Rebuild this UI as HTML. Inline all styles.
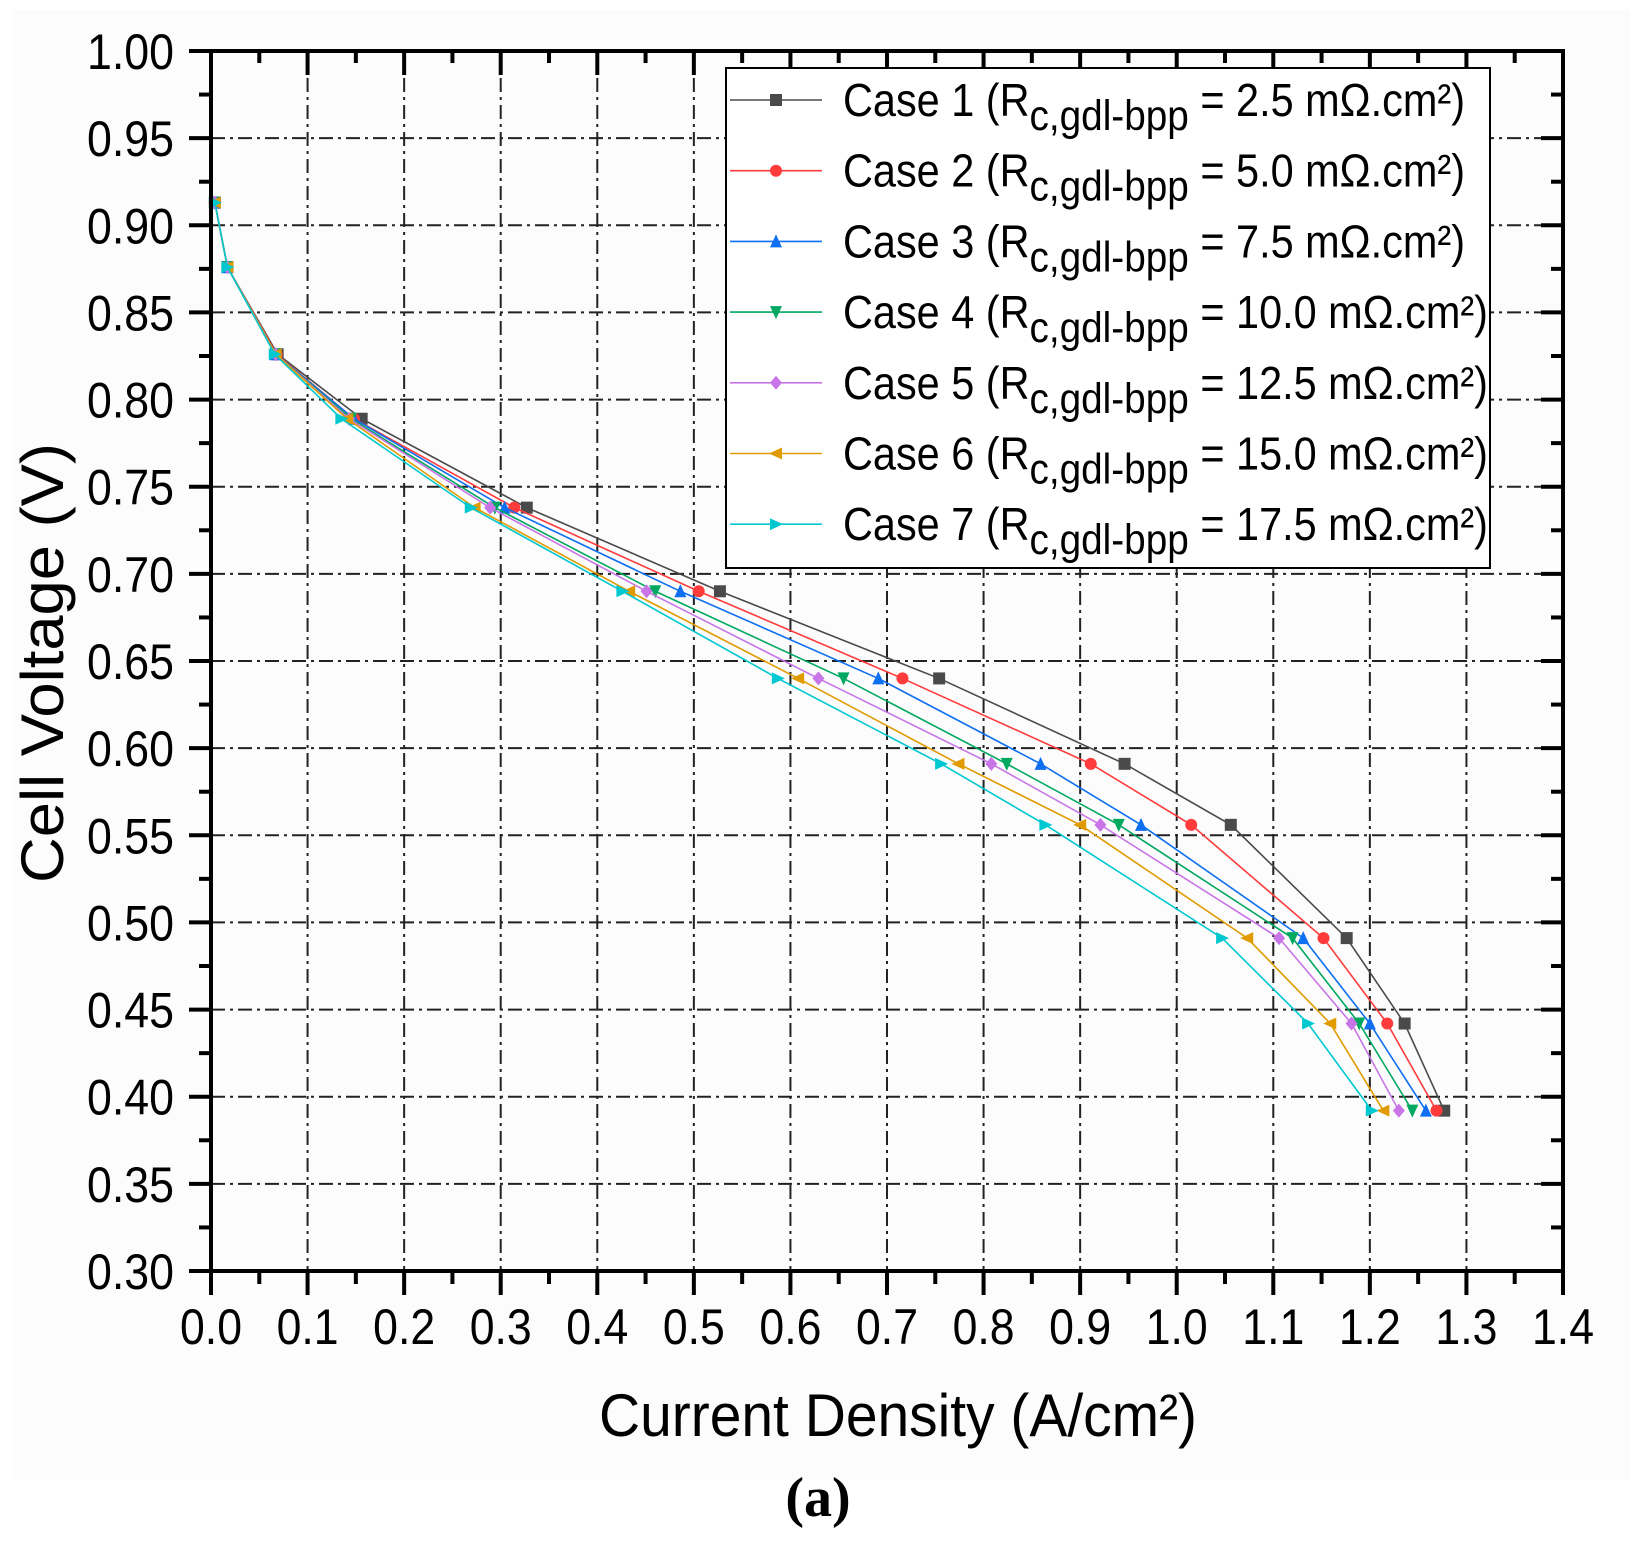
<!DOCTYPE html>
<html><head><meta charset="utf-8"><style>
html,body{margin:0;padding:0;background:#fff}
svg{display:block}
text{font-family:"Liberation Sans",Arial,sans-serif}
</style></head><body>
<svg id="chart" width="1637" height="1560" viewBox="0 0 1637 1560" xmlns="http://www.w3.org/2000/svg">
<rect width="1637" height="1560" fill="#fff"/>
<rect x="12" y="10" width="1618" height="1470" fill="#fcfcfc"/>
<g id="grid"></g>
<g id="series"></g>
<g id="axes"></g>
<g id="legend"></g>
<text x="898" y="1456" font-size="60" text-anchor="middle" textLength="598" lengthAdjust="spacingAndGlyphs" transform="translate(0,-20)">Current Density (A/cm²)</text>
<text transform="translate(63,663) rotate(-90)" font-size="60" text-anchor="middle" textLength="440" lengthAdjust="spacingAndGlyphs">Cell Voltage (V)</text>
<text x="818" y="1516" font-size="56" font-weight="bold" text-anchor="middle" style="font-family:'Liberation Serif',serif">(a)</text>
</svg>
<script>
const xTicks = [0.0,0.1,0.2,0.3,0.4,0.5,0.6,0.7,0.8,0.9,1.0,1.1,1.2,1.3,1.4];
const yTicks = [0.30,0.35,0.40,0.45,0.50,0.55,0.60,0.65,0.70,0.75,0.80,0.85,0.90,0.95,1.00];
const voltage = [0.913,0.876,0.826,0.789,0.738,0.690,0.640,0.591,0.556,0.491,0.442,0.392];
const case1 = [0.004,0.017,0.069,0.156,0.327,0.527,0.754,0.946,1.056,1.176,1.236,1.277];
const case2 = [0.004,0.017,0.068,0.148,0.314,0.505,0.716,0.911,1.015,1.152,1.218,1.269];
const case3 = [0.004,0.017,0.067,0.148,0.304,0.486,0.691,0.859,0.963,1.131,1.200,1.258];
const case4 = [0.004,0.017,0.067,0.145,0.294,0.460,0.655,0.824,0.940,1.120,1.189,1.244];
const case5 = [0.004,0.017,0.067,0.143,0.289,0.451,0.629,0.808,0.921,1.106,1.181,1.230];
const case6 = [0.004,0.017,0.067,0.141,0.273,0.433,0.608,0.774,0.900,1.073,1.159,1.214];
const case7 = [0.004,0.017,0.066,0.135,0.269,0.426,0.587,0.756,0.864,1.047,1.136,1.202];
const caseLabels = ["1","2","3","4","5","6","7"];
const caseValues = ["2.5","5.0","7.5","10.0","12.5","15.0","17.5"];

const NS="http://www.w3.org/2000/svg";
const X0=211,X1=1563,Y0=1271,Y1=51;
function xs(v){return X0+(v-0)/(1.4-0)*(X1-X0);}
function ys(v){return Y0-(v-0.3)/(1.0-0.3)*(Y0-Y1);}
function mk(tag,attrs,parent){const e=document.createElementNS(NS,tag);for(const k in attrs)e.setAttribute(k,attrs[k]);parent.appendChild(e);return e;}

const grid=document.getElementById('grid'),axes=document.getElementById('axes'),ser=document.getElementById('series'),leg=document.getElementById('legend');
const dash="14 5 3 5";
xTicks.forEach((t,i)=>{
  const x=xs(t);
  if(i>0&&i<xTicks.length-1){const l=mk('line',{x1:x,y1:Y1,x2:x,y2:Y0,stroke:'#222','stroke-width':2,'stroke-dasharray':dash},grid);
  
  }
  mk('line',{x1:x,y1:Y0,x2:x,y2:Y0+24,stroke:'#000','stroke-width':4},axes);
  mk('line',{x1:x,y1:Y1,x2:x,y2:Y1+24,stroke:'#000','stroke-width':4},axes);
  if(i<xTicks.length-1){const xm=xs(t+0.05);
    mk('line',{x1:xm,y1:Y0,x2:xm,y2:Y0+13,stroke:'#000','stroke-width':4},axes);
    mk('line',{x1:xm,y1:Y1,x2:xm,y2:Y1+12,stroke:'#000','stroke-width':4},axes);}
  const tx=mk('text',{x:x,y:1344,'font-size':50,'text-anchor':'middle',textLength:62,lengthAdjust:'spacingAndGlyphs'},axes);
  tx.textContent=t.toFixed(1);
  
  
});
yTicks.forEach((t,i)=>{
  const y=ys(t);
  if(i>0&&i<yTicks.length-1){const l=mk('line',{x1:X0,y1:y,x2:X1,y2:y,stroke:'#222','stroke-width':2,'stroke-dasharray':dash},grid);
  
  }
  mk('line',{x1:X0-22,y1:y,x2:X0,y2:y,stroke:'#000','stroke-width':4},axes);
  mk('line',{x1:X1-22,y1:y,x2:X1,y2:y,stroke:'#000','stroke-width':4},axes);
  if(i<yTicks.length-1){const ym=ys(t+0.025);
    mk('line',{x1:X0-12,y1:ym,x2:X0,y2:ym,stroke:'#000','stroke-width':4},axes);
    mk('line',{x1:X1-12,y1:ym,x2:X1,y2:ym,stroke:'#000','stroke-width':4},axes);}
  const tx=mk('text',{x:174,y:y+18,'font-size':50,'text-anchor':'end',textLength:87,lengthAdjust:'spacingAndGlyphs'},axes);
  tx.textContent=t.toFixed(2);
  
  
});
mk('rect',{x:X0,y:Y1,width:X1-X0,height:Y0-Y1,fill:'none',stroke:'#000','stroke-width':4},axes);

const colors=['#4a4a4a','#ff3b3b','#0e6ff0','#00a860','#c875e8','#e09b00','#00c8d0'];
const shapes=['square','circle','up','down','diamond','left','right'];
const allCases=[case1,case2,case3,case4,case5,case6,case7];
function marker(shape,x,y,c,parent){
  const s=6;
  if(shape==='square')return mk('rect',{x:x-s,y:y-s,width:2*s,height:2*s,fill:c},parent);
  if(shape==='circle')return mk('circle',{cx:x,cy:y,r:s,fill:c},parent);
  let p;
  if(shape==='up')p=[[x,y-s-1],[x-s,y+s],[x+s,y+s]];
  if(shape==='down')p=[[x,y+s+1],[x-s,y-s],[x+s,y-s]];
  if(shape==='diamond')p=[[x,y-s-1],[x+s,y],[x,y+s+1],[x-s,y]];
  if(shape==='left')p=[[x-s-1,y],[x+s,y-s],[x+s,y+s]];
  if(shape==='right')p=[[x+s+1,y],[x-s,y-s],[x-s,y+s]];
  return mk('polygon',{points:p.map(q=>q.join(',')).join(' '),fill:c},parent);
}
allCases.forEach((arr,k)=>{
  const g=mk('g',{},ser);
  
  
  const pts=arr.map((v,i)=>xs(v)+','+ys(voltage[i])).join(' ');
  const pl=mk('polyline',{points:pts,fill:'none',stroke:colors[k],'stroke-width':1.6},g);
  
  
  arr.forEach((v,i)=>{const m=marker(shapes[k],xs(v),ys(voltage[i]),colors[k],g);
    
    });
});

// legend
const box=mk('rect',{x:726,y:68,width:764,height:500,fill:'#fff',stroke:'#000','stroke-width':2},leg);


caseLabels.forEach((lab,k)=>{
  const y=100+k*70.7;
  const g=mk('g',{},leg);
  
  
  mk('line',{x1:730,y1:y,x2:822,y2:y,stroke:colors[k],'stroke-width':1.6},g);
  marker(shapes[k],776,y,colors[k],g);
  const t=mk('text',{x:843,y:y+16,'font-size':46},g);
  t.setAttribute('textLength',(k<3?622:645));
  t.setAttribute('lengthAdjust','spacingAndGlyphs');
  t.innerHTML='Case '+lab+' (R<tspan dy="14" font-size="43">c,gdl-bpp</tspan><tspan dy="-14"> = '+caseValues[k]+' mΩ.cm²)</tspan>';
});
</script>
</body></html>
